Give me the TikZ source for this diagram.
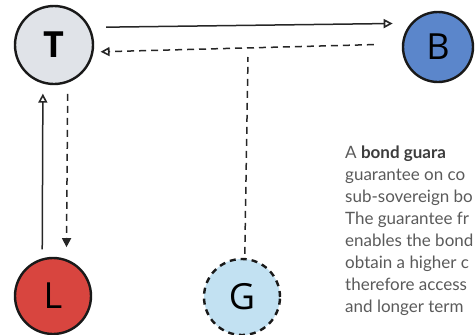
\documentclass[tikz,border=0pt]{standalone}
\usepackage{fontspec}
\setmainfont{Lato}
\newfontfamily\letterfont{Open Sans}
\usetikzlibrary{arrows.meta}
\definecolor{tgray}{HTML}{E0E3E8}
\definecolor{bblue}{HTML}{5B86CB}
\definecolor{lred}{HTML}{D8453F}
\definecolor{glight}{HTML}{C2E1F2}
\definecolor{txtgray}{HTML}{5A5A5A}
\definecolor{txtdark}{HTML}{3C3C3C}
\begin{document}
\begin{tikzpicture}[x=1pt,y=-1pt,
  party/.style={circle, draw=black!90, line width=2.4pt, inner sep=0pt, font=\letterfont\fontsize{36}{36}\selectfont},
  link/.style={line width=1.5pt, draw=black!85},
  dashlink/.style={link, dash pattern=on 7pt off 5pt},
  opentip/.style={-{Triangle[open, length=9pt, width=9pt, line width=1.6pt]}},
  filledtip/.style={-{Triangle[length=9pt, width=9pt]}},
  body/.style={anchor=base west, font=\fontsize{17}{22}\selectfont, text=txtgray, inner sep=0pt}
]
\useasboundingbox (0,0) rectangle (475,335);
\node[party, fill=tgray, minimum size=78pt, font=\letterfont\bfseries\fontsize{36}{36}\selectfont] (T) at (54,45) {T};
\node[party, fill=bblue, minimum size=70pt] (B) at (438,47) {B};
\node[party, fill=lred, minimum size=76pt] (L) at (53,296) {L};
\node[party, fill=glight, dash pattern=on 6pt off 5pt, minimum size=76pt] (G) at (242,297) {G};
\coordinate (gtop) at (248,57);
\draw[link, opentip, shorten <=16pt, shorten >=18pt] (T.26) -- (B.139);
\draw[dashlink, opentip, shorten <=28pt, shorten >=7pt] (B.175) -- (T.-10);
\draw[dashlink, shorten <=4pt] (G.86) -- (gtop);
\draw[link, opentip, shorten <=9pt, shorten >=10pt] (L.106) -- (T.-106);
\draw[dashlink, filledtip, shorten <=11pt, shorten >=12pt] (T.-70) -- (L.70);
\node[body] (p1) at (345,158) {A \textcolor{txtdark}{\textbf{bond guara}}};
\node[body] (p2) at (345,180) {guarantee on co};
\node[body] (p3) at (345,202) {sub-sovereign bo};
\node[body] (p4) at (345,224) {The guarantee fr};
\node[body] (p5) at (345,246) {enables the bond};
\node[body] (p6) at (345,268) {obtain a higher c};
\node[body] (p7) at (345,290) {therefore access};
\node[body] (p8) at (345,312) {and longer term};
\end{tikzpicture}
\end{document}
